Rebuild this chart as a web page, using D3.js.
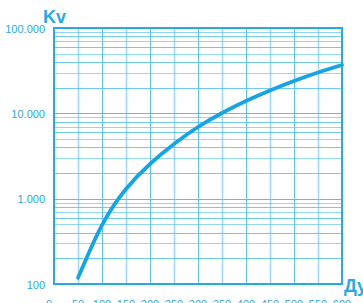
<!DOCTYPE html>
<html><head><meta charset="utf-8">
<script src="https://cdn.jsdelivr.net/npm/d3@7"></script>
<style>html,body{margin:0;padding:0;background:#fff;overflow:hidden}svg{display:block}</style>
</head><body>
<script>
const dn = [50,100,150,200,250,300,350,400,450,500,550,600];
const kv = [118,490,1300,2550,4370,6920,10090,13950,18520,23930,30090,36850];
const xTicks = [0,50,100,150,200,250,300,350,400,450,500,550,600];
const yTicks = [100,1000,10000,100000];
const yTickLabels = ["100","1.000","10.000","100.000"];
const yTitle = "Kv";
const xTitle = "Ду";

const W=363,H=303;
const blue="#29a9e1", grid="#58c1ec", line="#16a4e2";
const svg=d3.select("body").append("svg").attr("width",W).attr("height",H);
const x=d3.scaleLinear().domain([0,600]).range([54,342]);
const y=d3.scaleLog().domain([100,100000]).range([284,28]);

// horizontal grid (log minor lines)
const minor=[];
for(let d=100; d<100000; d*=10){ for(let k=1;k<10;k++) minor.push(d*k); }
svg.append("g").selectAll("line").data(minor).join("line")
  .attr("x1",x(0)).attr("x2",x(600))
  .attr("y1",d=>Math.round(y(d))+0.5).attr("y2",d=>Math.round(y(d))+0.5)
  .attr("stroke",grid).attr("stroke-width",1)
  .attr("opacity",(d,i)=>i%9===0?1:((i%9)%2?0.85:0.65));
// vertical grid
svg.append("g").selectAll("line").data(xTicks.slice(1,-1)).join("line")
  .attr("x1",d=>Math.round(x(d))+0.5).attr("x2",d=>Math.round(x(d))+0.5)
  .attr("y1",y(100000)).attr("y2",y(100))
  .attr("stroke",grid).attr("stroke-width",(d)=>d%100===0?1:1.5)
  .attr("opacity",d=>d%100===0?1:0.6);
// frame
svg.append("rect").attr("x",x(0)).attr("y",y(100000)).attr("width",x(600)-x(0)).attr("height",y(100)-y(100000))
  .attr("fill","none").attr("stroke",blue).attr("stroke-width",2);

// curve
svg.append("path").datum(dn.map((d,i)=>[d,kv[i]]))
  .attr("d",d3.line().x(d=>x(d[0])).y(d=>y(d[1])).curve(d3.curveNatural))
  .attr("fill","none").attr("stroke",line).attr("stroke-width",3.8).attr("stroke-linecap","round");

// y tick labels
svg.append("g").selectAll("text").data(yTicks).join("text")
  .attr("x",45).attr("y",d=>y(d)+4.5).attr("text-anchor","end")
  .attr("font-family","Liberation Sans, Arial, sans-serif").attr("font-size",11)
  .attr("fill",blue)
  .text((d,i)=>yTickLabels[i]);
// x tick labels
svg.append("g").selectAll("text").data(xTicks).join("text")
  .attr("x",d=>d===0?49:x(d)).attr("y",308).attr("text-anchor","middle")
  .attr("font-family","Liberation Sans, Arial, sans-serif").attr("font-size",11)
  .attr("fill",blue)
  .text(d=>d);
// titles
svg.append("text").attr("x",43).attr("y",23).attr("font-family","Liberation Sans, Arial, sans-serif")
  .attr("font-weight","bold").attr("font-size",18).attr("fill",blue).text(yTitle);
svg.append("text").attr("x",344).attr("y",292).attr("font-family","Liberation Sans, Arial, sans-serif")
  .attr("font-weight","bold").attr("font-size",18).attr("fill",blue).text(xTitle);
</script>
</body></html>
